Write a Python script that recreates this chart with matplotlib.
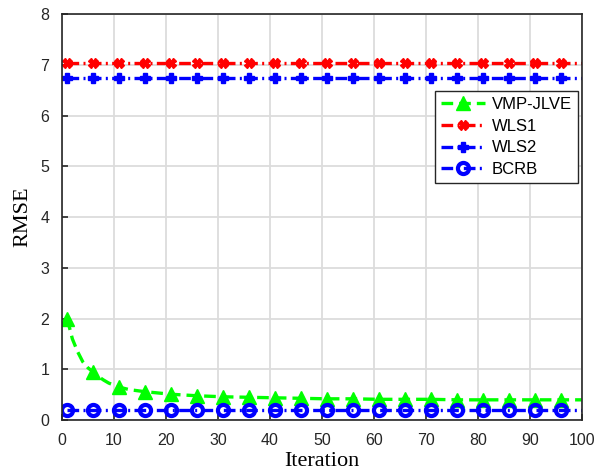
import matplotlib
matplotlib.use("Agg")
import matplotlib.pyplot as plt

# Data
iters_vmp = [1, 2, 3, 4, 5, 6, 7, 8, 9, 10, 11, 13, 16, 21, 26, 31, 36, 41, 46, 51,
             56, 61, 66, 71, 76, 81, 86, 91, 96, 100]
rmse_vmp = [2.0, 1.6, 1.35, 1.15, 1.03, 0.95, 0.86, 0.79, 0.73, 0.69, 0.65, 0.6, 0.56,
            0.51, 0.48, 0.46, 0.45, 0.44, 0.43, 0.42, 0.42, 0.41, 0.41, 0.41, 0.40,
            0.40, 0.40, 0.40, 0.40, 0.40]
iters_line = [1, 100]
wls1 = [7.03, 7.03]
wls2 = [6.74, 6.74]
bcrb = [0.2, 0.2]
marker_iters = list(range(1, 100, 5))
xticks = list(range(0, 101, 10))
yticks = list(range(0, 9))

fig = plt.figure(figsize=(5.96, 4.71), dpi=100)
ax = fig.add_axes([0.104, 0.108, 0.872, 0.862])

def mk_idx(xs):
    return [i for i, x in enumerate(xs) if x in marker_iters]

lw = 2.4
xs_c = sorted(set(marker_iters + iters_line))
dashdot = (0, (3.5, 1.3, 0.6, 1.3))

ax.plot(iters_vmp, rmse_vmp, color='#00ff00', ls=(0, (3.5, 1.8)), lw=lw,
        marker='^', ms=10, markevery=mk_idx(iters_vmp), label='VMP-JLVE')
ax.plot(xs_c, [wls1[0]] * len(xs_c), color='red', ls=dashdot, lw=lw,
        marker='X', ms=6.5, markevery=mk_idx(xs_c), label='WLS1')
ax.plot(xs_c, [wls2[0]] * len(xs_c), color='blue', ls=dashdot, lw=lw,
        marker='P', ms=6.5, markevery=mk_idx(xs_c), label='WLS2')
ax.plot(xs_c, [bcrb[0]] * len(xs_c), color='blue', ls=dashdot, lw=lw,
        marker='o', ms=8, mfc='none', mew=3, markevery=mk_idx(xs_c), label='BCRB')

ax.set_xlim(0, 100)
ax.set_ylim(0, 8)
ax.set_xticks(xticks)
ax.set_yticks(yticks)
ax.grid(True, color='#dcdcdc', lw=1.3)
ax.set_axisbelow(True)
ax.tick_params(direction='in', labelsize=11.5, colors='#262626', length=4, width=1.2,
               top=False, right=False)
ax.tick_params(axis='x', pad=9)
ax.tick_params(axis='y', pad=9)
for lab in ax.get_xticklabels() + ax.get_yticklabels():
    lab.set_family('Liberation Sans')
for sp in ax.spines.values():
    sp.set_color('#262626')
    sp.set_linewidth(1.2)

ax.set_xlabel('Iteration', family='Liberation Serif', fontsize=16, labelpad=3)
ax.set_ylabel('RMSE', family='Liberation Serif', fontsize=16, labelpad=6)

leg = ax.legend(loc='upper right', bbox_to_anchor=(0.993, 0.81), prop={'family': 'Liberation Sans', 'size': 12},
                fancybox=False, edgecolor='#262626', framealpha=1, handlelength=2.6,
                borderpad=0.35, labelspacing=0.4, handletextpad=0.45, borderaxespad=0)
leg.get_frame().set_linewidth(1.0)

fig.savefig('out.png', dpi=100)
